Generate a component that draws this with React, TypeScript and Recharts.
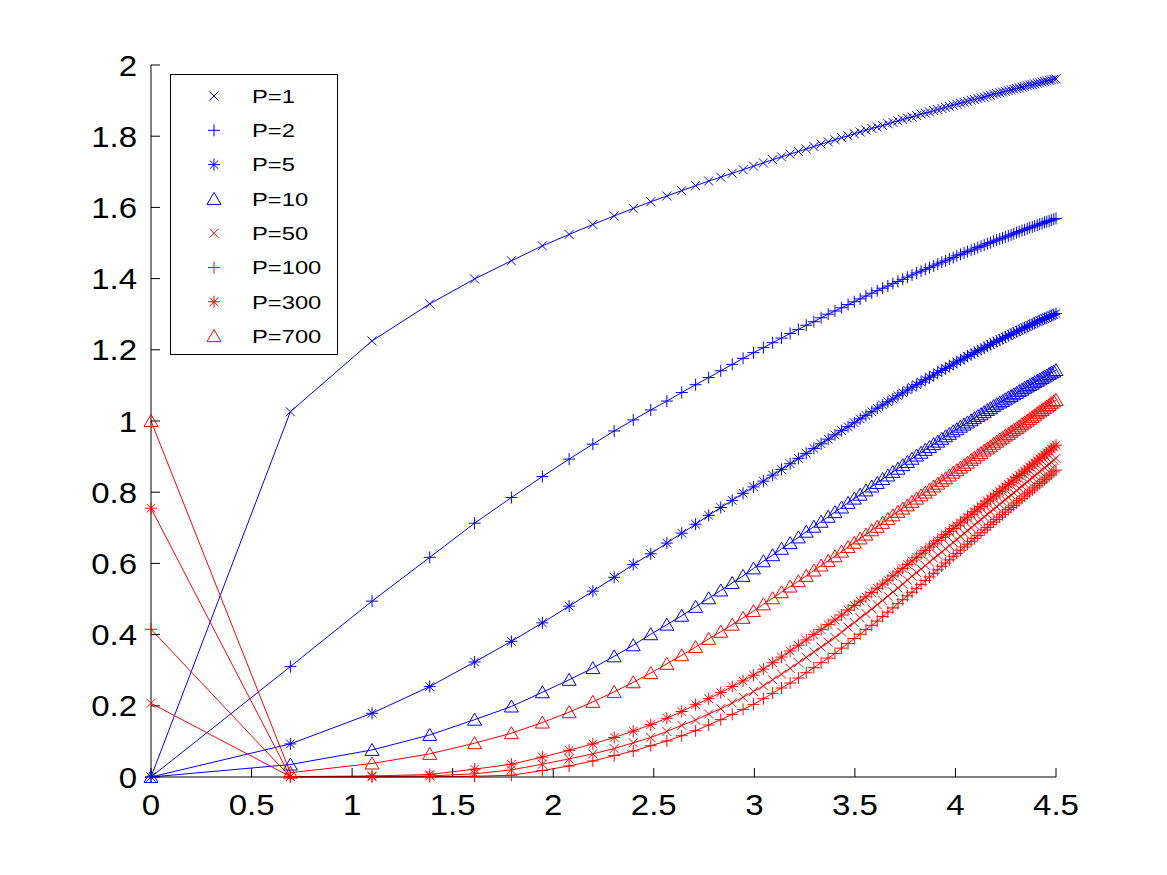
import React from 'react';
import { LineChart, Line, XAxis, YAxis, Legend } from 'recharts';

// Abscissa of every sample (ln of the step index 1..90)
const xValues = [
  0, 0.693, 1.099, 1.386, 1.609, 1.792, 1.946, 2.079, 2.197, 2.303,
  2.398, 2.485, 2.565, 2.639, 2.708, 2.773, 2.833, 2.890, 2.944, 2.996,
  3.045, 3.091, 3.135, 3.178, 3.219, 3.258, 3.296, 3.332, 3.367, 3.401,
  3.434, 3.466, 3.497, 3.526, 3.555, 3.584, 3.611, 3.638, 3.664, 3.689,
  3.714, 3.738, 3.761, 3.784, 3.807, 3.829, 3.850, 3.871, 3.892, 3.912,
  3.932, 3.951, 3.970, 3.989, 4.007, 4.025, 4.043, 4.060, 4.078, 4.094,
  4.111, 4.127, 4.143, 4.159, 4.174, 4.190, 4.205, 4.220, 4.234, 4.248,
  4.263, 4.277, 4.290, 4.304, 4.317, 4.331, 4.344, 4.357, 4.369, 4.382,
  4.394, 4.407, 4.419, 4.431, 4.443, 4.454, 4.466, 4.477, 4.489, 4.500,
];

const p1 = [
  0, 1.026, 1.225, 1.329, 1.399, 1.450, 1.492, 1.524, 1.552, 1.576,
  1.597, 1.616, 1.632, 1.647, 1.661, 1.674, 1.685, 1.696, 1.706, 1.716,
  1.725, 1.734, 1.742, 1.750, 1.757, 1.764, 1.771, 1.778, 1.784, 1.790,
  1.796, 1.801, 1.807, 1.812, 1.817, 1.822, 1.826, 1.830, 1.835, 1.839,
  1.843, 1.847, 1.851, 1.854, 1.858, 1.862, 1.865, 1.868, 1.872, 1.875,
  1.878, 1.881, 1.884, 1.887, 1.890, 1.893, 1.895, 1.898, 1.901, 1.903,
  1.906, 1.908, 1.910, 1.913, 1.915, 1.918, 1.920, 1.922, 1.924, 1.926,
  1.928, 1.930, 1.932, 1.934, 1.936, 1.938, 1.940, 1.942, 1.944, 1.945,
  1.947, 1.949, 1.950, 1.952, 1.954, 1.955, 1.957, 1.958, 1.960, 1.961,
];

const p2 = [
  0, 0.310, 0.494, 0.617, 0.713, 0.785, 0.844, 0.893, 0.935, 0.972,
  1.003, 1.031, 1.056, 1.080, 1.102, 1.122, 1.141, 1.159, 1.176, 1.192,
  1.206, 1.220, 1.233, 1.246, 1.257, 1.269, 1.279, 1.290, 1.300, 1.309,
  1.318, 1.327, 1.335, 1.343, 1.351, 1.359, 1.366, 1.373, 1.379, 1.386,
  1.392, 1.398, 1.404, 1.410, 1.416, 1.421, 1.426, 1.431, 1.436, 1.441,
  1.446, 1.450, 1.455, 1.459, 1.464, 1.468, 1.472, 1.476, 1.480, 1.483,
  1.487, 1.491, 1.494, 1.498, 1.501, 1.505, 1.508, 1.511, 1.514, 1.517,
  1.520, 1.523, 1.526, 1.529, 1.532, 1.535, 1.537, 1.540, 1.543, 1.545,
  1.548, 1.550, 1.553, 1.555, 1.558, 1.560, 1.562, 1.564, 1.567, 1.569,
];

const p5 = [
  0, 0.093, 0.179, 0.254, 0.323, 0.381, 0.433, 0.480, 0.522, 0.561,
  0.597, 0.627, 0.657, 0.685, 0.710, 0.735, 0.757, 0.777, 0.797, 0.815,
  0.831, 0.848, 0.864, 0.880, 0.895, 0.909, 0.923, 0.936, 0.949, 0.961,
  0.973, 0.984, 0.995, 1.006, 1.016, 1.026, 1.036, 1.045, 1.054, 1.062,
  1.071, 1.079, 1.087, 1.095, 1.102, 1.109, 1.116, 1.123, 1.129, 1.136,
  1.142, 1.148, 1.154, 1.160, 1.166, 1.171, 1.177, 1.182, 1.187, 1.192,
  1.197, 1.201, 1.206, 1.211, 1.215, 1.220, 1.224, 1.228, 1.232, 1.236,
  1.240, 1.244, 1.247, 1.251, 1.255, 1.258, 1.262, 1.265, 1.269, 1.272,
  1.275, 1.279, 1.282, 1.285, 1.288, 1.290, 1.293, 1.296, 1.299, 1.302,
];

const p10 = [
  0, 0.035, 0.076, 0.118, 0.161, 0.198, 0.238, 0.273, 0.306, 0.339,
  0.370, 0.401, 0.428, 0.453, 0.478, 0.502, 0.524, 0.545, 0.565, 0.586,
  0.606, 0.623, 0.641, 0.657, 0.673, 0.689, 0.703, 0.717, 0.731, 0.744,
  0.757, 0.770, 0.782, 0.793, 0.805, 0.816, 0.826, 0.837, 0.847, 0.857,
  0.866, 0.876, 0.885, 0.894, 0.903, 0.911, 0.919, 0.927, 0.935, 0.942,
  0.950, 0.957, 0.964, 0.971, 0.977, 0.984, 0.990, 0.996, 1.002, 1.008,
  1.014, 1.019, 1.025, 1.031, 1.036, 1.042, 1.047, 1.052, 1.056, 1.061,
  1.066, 1.070, 1.075, 1.079, 1.084, 1.088, 1.093, 1.097, 1.101, 1.105,
  1.109, 1.113, 1.117, 1.121, 1.125, 1.128, 1.132, 1.136, 1.139, 1.143,
];

const p50 = [
  0.207, 0.001, 0.001, 0.003, 0.009, 0.020, 0.036, 0.051, 0.065, 0.080,
  0.096, 0.111, 0.128, 0.145, 0.160, 0.177, 0.192, 0.208, 0.224, 0.240,
  0.256, 0.273, 0.289, 0.305, 0.321, 0.336, 0.351, 0.365, 0.379, 0.392,
  0.407, 0.421, 0.434, 0.447, 0.459, 0.472, 0.484, 0.496, 0.508, 0.520,
  0.531, 0.542, 0.553, 0.564, 0.574, 0.584, 0.594, 0.604, 0.614, 0.623,
  0.632, 0.641, 0.650, 0.659, 0.667, 0.676, 0.684, 0.692, 0.700, 0.708,
  0.716, 0.723, 0.731, 0.738, 0.745, 0.752, 0.759, 0.766, 0.773, 0.779,
  0.786, 0.792, 0.798, 0.805, 0.811, 0.817, 0.823, 0.829, 0.835, 0.841,
  0.846, 0.852, 0.858, 0.863, 0.869, 0.874, 0.879, 0.884, 0.890, 0.895,
];

const p100 = [
  0.415, 0.000, 0.000, 0.001, 0.002, 0.005, 0.018, 0.031, 0.045, 0.060,
  0.073, 0.088, 0.101, 0.116, 0.130, 0.146, 0.161, 0.176, 0.190, 0.204,
  0.220, 0.235, 0.250, 0.264, 0.278, 0.293, 0.307, 0.321, 0.334, 0.347,
  0.362, 0.375, 0.389, 0.401, 0.414, 0.426, 0.438, 0.451, 0.463, 0.475,
  0.487, 0.498, 0.509, 0.519, 0.530, 0.541, 0.552, 0.562, 0.572, 0.582,
  0.592, 0.601, 0.610, 0.620, 0.628, 0.637, 0.646, 0.654, 0.662, 0.670,
  0.678, 0.686, 0.694, 0.701, 0.709, 0.716, 0.723, 0.730, 0.737, 0.744,
  0.751, 0.757, 0.763, 0.770, 0.776, 0.782, 0.789, 0.795, 0.800, 0.806,
  0.812, 0.818, 0.824, 0.829, 0.835, 0.840, 0.846, 0.851, 0.857, 0.862,
];

const p300 = [
  0.755, 0.001, 0.003, 0.007, 0.022, 0.036, 0.056, 0.075, 0.093, 0.111,
  0.129, 0.147, 0.165, 0.184, 0.203, 0.220, 0.237, 0.254, 0.270, 0.286,
  0.303, 0.321, 0.337, 0.354, 0.370, 0.385, 0.400, 0.414, 0.428, 0.441,
  0.455, 0.469, 0.482, 0.494, 0.506, 0.518, 0.530, 0.542, 0.553, 0.565,
  0.576, 0.586, 0.597, 0.607, 0.617, 0.627, 0.636, 0.646, 0.655, 0.664,
  0.673, 0.681, 0.690, 0.698, 0.706, 0.714, 0.722, 0.730, 0.738, 0.745,
  0.753, 0.760, 0.767, 0.775, 0.781, 0.789, 0.795, 0.802, 0.809, 0.815,
  0.822, 0.828, 0.834, 0.841, 0.847, 0.853, 0.859, 0.865, 0.871, 0.877,
  0.882, 0.888, 0.894, 0.899, 0.905, 0.910, 0.916, 0.921, 0.927, 0.932,
];

const p700 = [
  1.000, 0.012, 0.038, 0.065, 0.095, 0.123, 0.153, 0.182, 0.211, 0.239,
  0.266, 0.292, 0.318, 0.342, 0.365, 0.388, 0.408, 0.428, 0.447, 0.466,
  0.485, 0.502, 0.519, 0.535, 0.550, 0.565, 0.580, 0.594, 0.607, 0.620,
  0.633, 0.646, 0.658, 0.670, 0.681, 0.693, 0.703, 0.714, 0.725, 0.735,
  0.745, 0.754, 0.763, 0.773, 0.782, 0.791, 0.799, 0.807, 0.816, 0.824,
  0.832, 0.839, 0.847, 0.855, 0.862, 0.869, 0.876, 0.883, 0.891, 0.897,
  0.904, 0.910, 0.917, 0.923, 0.929, 0.936, 0.942, 0.948, 0.953, 0.959,
  0.964, 0.970, 0.975, 0.980, 0.985, 0.991, 0.996, 1.001, 1.006, 1.011,
  1.016, 1.022, 1.027, 1.031, 1.036, 1.041, 1.045, 1.050, 1.055, 1.059,
];

const xTicks = [0, 0.5, 1, 1.5, 2, 2.5, 3, 3.5, 4, 4.5];
const yTicks = [0, 0.2, 0.4, 0.6, 0.8, 1, 1.2, 1.4, 1.6, 1.8, 2];

const seriesLabels = ['P=1', 'P=2', 'P=5', 'P=10', 'P=50', 'P=100', 'P=300', 'P=700'];
const seriesKeys = ['p1', 'p2', 'p5', 'p10', 'p50', 'p100', 'p300', 'p700'];
const seriesValues = [p1, p2, p5, p10, p50, p100, p300, p700];
const seriesColors = ['#0000ff', '#0000ff', '#0000ff', '#0000ff', '#ff0000', '#ff0000', '#ff0000', '#ff0000'];
const seriesMarkers = ['x', 'plus', 'star', 'triangle', 'x', 'plus', 'star', 'triangle'];

const data = xValues.map((x, i) => {
  const row: Record<string, number> = { x };
  seriesKeys.forEach((key, s) => {
    row[key] = seriesValues[s][i];
  });
  return row;
});

const FONT = '"Liberation Sans", Arial, Helvetica, sans-serif';
const TICK_FONT_SIZE = 30;
const TEXT_STRETCH = 1.1;

function markerPath(shape: string, cx: number, cy: number): string {
  switch (shape) {
    case 'x': {
      const s = 4.5;
      return `M${cx - s},${cy - s}L${cx + s},${cy + s}M${cx - s},${cy + s}L${cx + s},${cy - s}`;
    }
    case 'plus': {
      const s = 6;
      return `M${cx - s},${cy}L${cx + s},${cy}M${cx},${cy - s}L${cx},${cy + s}`;
    }
    case 'star': {
      const s = 6;
      const d = 4.3;
      return (
        `M${cx - s},${cy}L${cx + s},${cy}M${cx},${cy - s}L${cx},${cy + s}` +
        `M${cx - d},${cy - d}L${cx + d},${cy + d}M${cx - d},${cy + d}L${cx + d},${cy - d}`
      );
    }
    default: {
      return `M${cx},${cy - 6.5}L${cx + 7},${cy + 5.5}L${cx - 7},${cy + 5.5}Z`;
    }
  }
}

function Marker(props: any) {
  const { cx, cy, shape, color } = props;
  if (cx == null || cy == null || isNaN(cx) || isNaN(cy)) return null;
  return <path d={markerPath(shape, cx, cy)} stroke={color} strokeWidth={1} fill="none" />;
}

// Tick label, slightly widened to match the plotting font
function TickLabel(props: any) {
  const { x, y, payload, anchor, dy } = props;
  return (
    <text
      transform={`translate(${x} ${y}) scale(${TEXT_STRETCH} 1)`}
      textAnchor={anchor}
      dy={dy}
      fontFamily={FONT}
      fontSize={TICK_FONT_SIZE}
      fill="#000"
    >
      {String(payload.value)}
    </text>
  );
}

function LegendBox() {
  const rowGap = 34.3;
  return (
    <div
      style={{
        width: 168,
        height: 281,
        border: '1.3px solid #000',
        background: '#fff',
        boxSizing: 'border-box',
      }}
    >
      <svg width={166} height={279}>
        {seriesLabels.map((label, i) => {
          const cy = 21 + i * rowGap;
          return (
            <g key={label}>
              <path
                d={markerPath(seriesMarkers[i], 43, cy)}
                stroke={seriesColors[i]}
                strokeWidth={1}
                fill="none"
              />
              <text
                transform={`translate(81 ${cy}) scale(1.25 1)`}
                dy="0.36em"
                fontFamily={FONT}
                fontSize={19}
                fill="#000"
              >
                {label}
              </text>
            </g>
          );
        })}
      </svg>
    </div>
  );
}

export default function App() {
  return (
    <LineChart
      width={1159}
      height={867}
      data={data}
      margin={{ top: 57, right: 111, bottom: 38, left: 0 }}
      style={{ background: '#fff' }}
    >
      <XAxis
        dataKey="x"
        type="number"
        domain={[0, 4.5]}
        ticks={xTicks}
        interval={0}
        height={60}
        tickSize={-9}
        tickMargin={26}
        axisLine={{ stroke: '#000', strokeWidth: 1 }}
        tickLine={{ stroke: '#000', strokeWidth: 1 }}
        tick={(p: any) => <TickLabel {...p} anchor="middle" dy="0.71em" />}
      />
      <YAxis
        type="number"
        domain={[0, 2]}
        ticks={yTicks}
        interval={0}
        width={143}
        tickSize={-9}
        tickMargin={23}
        axisLine={{ stroke: '#000', strokeWidth: 1 }}
        tickLine={{ stroke: '#000', strokeWidth: 1 }}
        tick={(p: any) => <TickLabel {...p} anchor="end" dy="0.355em" />}
      />
      <Legend
        layout="vertical"
        align="center"
        verticalAlign="middle"
        wrapperStyle={{ position: 'absolute', left: 162, top: 66, width: 168, height: 281 }}
        content={() => <LegendBox />}
      />
      {seriesKeys.map((key, i) => (
        <Line
          key={key}
          dataKey={key}
          name={seriesLabels[i]}
          type="linear"
          stroke={seriesColors[i]}
          strokeWidth={1}
          isAnimationActive={false}
          activeDot={false}
          legendType="none"
          dot={(p: any) => (
            <Marker
              key={`${key}-${p.index}`}
              cx={p.cx}
              cy={p.cy}
              shape={seriesMarkers[i]}
              color={seriesColors[i]}
            />
          )}
        />
      ))}
    </LineChart>
  );
}
